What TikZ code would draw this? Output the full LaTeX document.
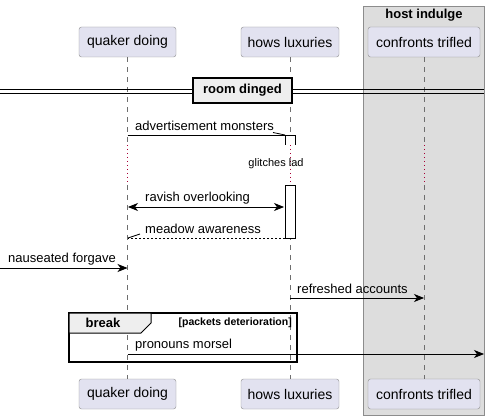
\documentclass[tikz,border=0pt]{standalone}
\usepackage{fontspec}
\setmainfont{Liberation Sans}
\usetikzlibrary{arrows.meta, calc}

\definecolor{partfill}{HTML}{E2E2F0}
\definecolor{partdraw}{HTML}{8C8C8C}
\definecolor{boxfill}{HTML}{DDDDDD}
\definecolor{divfill}{HTML}{EEEEEE}
\definecolor{delaydot}{HTML}{A80036}
\definecolor{lifeline}{HTML}{6E6E6E}

\begin{document}
\begin{tikzpicture}[x=1pt, y=-1pt, >={Stealth[length=10pt, width=8pt, inset=3pt]},
    part/.style={draw=partdraw, fill=partfill, rounded corners=2.5pt, minimum height=30pt,
        inner xsep=0pt, font=\fontsize{14}{16}\selectfont},
    msg/.style={anchor=west, inner sep=0pt, font=\fontsize{13}{15}\selectfont},
    life/.style={draw=lifeline, dashed, dash pattern=on 5pt off 5pt, line width=0.6pt},
    pause/.style={draw=delaydot, dash pattern=on 1pt off 3pt, line width=0.8pt},
    arr/.style={line width=0.8pt}]
    \useasboundingbox (0,0) rectangle (491,420);

    % Box of the group (grey)
    \draw[fill=boxfill, draw=partdraw] (363,6) rectangle (484,415);
    \node[font=\bfseries\fontsize{13}{15}\selectfont] (host) at (424,15) {host indulge};

    % Participants, top and bottom
    \node[part, minimum width=97pt] (qtop) at (127.5,42) {quaker doing};
    \node[part, minimum width=98pt] (htop) at (290,42) {hows luxuries};
    \node[part, minimum width=112pt] (ctop) at (424,42) {confronts trifled};
    \node[part, minimum width=97pt] (qbot) at (127.5,394) {quaker doing};
    \node[part, minimum width=98pt] (hbot) at (290,394) {hows luxuries};
    \node[part, minimum width=112pt] (cbot) at (424,394) {confronts trifled};

    % Lifelines, broken by the delay
    \foreach \p/\x in {q/127.5, h/290, c/424} {
        \coordinate (\p pa) at (\x,145);
        \coordinate (\p pb) at (\x,185);
        \draw[life] (\p top.south) -- (\p pa);
        \draw[pause] (\p pa) -- (\p pb);
        \draw[life] (\p pb) -- (\p bot.north);
    }

    % Separator
    \draw[line width=0.8pt] (0,89.5) -- (484,89.5);
    \draw[line width=0.8pt] (0,93.5) -- (484,93.5);
    \node[draw, line width=1.5pt, fill=divfill, minimum width=99pt, minimum height=25pt,
        font=\bfseries\fontsize{13}{15}\selectfont] (sep) at (242.5,90.5) {room dinged};

    % Activation
    \draw[fill=white, line width=0.8pt] (285,145) -- (285,135) -- (295,135) -- (295,145);
    \draw[fill=white, line width=0.8pt] (285,185) rectangle (295,238);
    \node[inner sep=0pt, font=\fontsize{11}{13}\selectfont] (lad) at (276,164) {glitches lad};

    % Messages
    \coordinate (m1a) at (127.5,135);
    \coordinate (m1b) at (285,135);
    \draw[arr] (m1a) -- (m1b);
    \draw[arr] (m1b) -- ++(-12,-2.5);
    \node[msg] (t1) at (135,126) {advertisement monsters};

    \coordinate (m2a) at (128,207);
    \coordinate (m2b) at (284,207);
    \draw[arr, <->] (m2a) -- (m2b);
    \node[msg] (t2) at (145,198) {ravish overlooking};

    \coordinate (m3a) at (285,238);
    \coordinate (m3b) at (128,238);
    \draw[arr, dashed, dash pattern=on 2pt off 2pt] (m3a) -- (m3b);
    \draw[arr] (m3b) -- ++(12,-4);
    \node[msg] (t3) at (145,229) {meadow awareness};

    \coordinate (m4a) at (0,268);
    \draw[arr, ->] (m4a) -- (m4a -| qtop);
    \node[msg] (t4) at (8,259) {nauseated forgave};

    \coordinate (m5a) at (290,298);
    \draw[arr, ->] (m5a) -- (m5a -| ctop);
    \node[msg] (t5) at (297,289) {refreshed accounts};

    % Break group
    \draw[line width=1.5pt] (69,313) rectangle (297,362);
    \draw[fill=divfill, line width=1pt] (69,313) -- (151,313) -- (151,323) -- (141,333) -- (69,333) -- cycle;
    \node[font=\bfseries\fontsize{13}{15}\selectfont] (brk) at (103,323) {break};
    \node[anchor=east, inner sep=0pt, font=\bfseries\fontsize{10.5}{12}\selectfont] (grd) at (292,323) {[packets deterioration]};

    \coordinate (m6a) at (127.5,354);
    \coordinate (m6b) at (484,354);
    \draw[arr, ->] (m6a) -- (m6b);
    \node[msg] (t6) at (135,345) {pronouns morsel};
\end{tikzpicture}
\end{document}
